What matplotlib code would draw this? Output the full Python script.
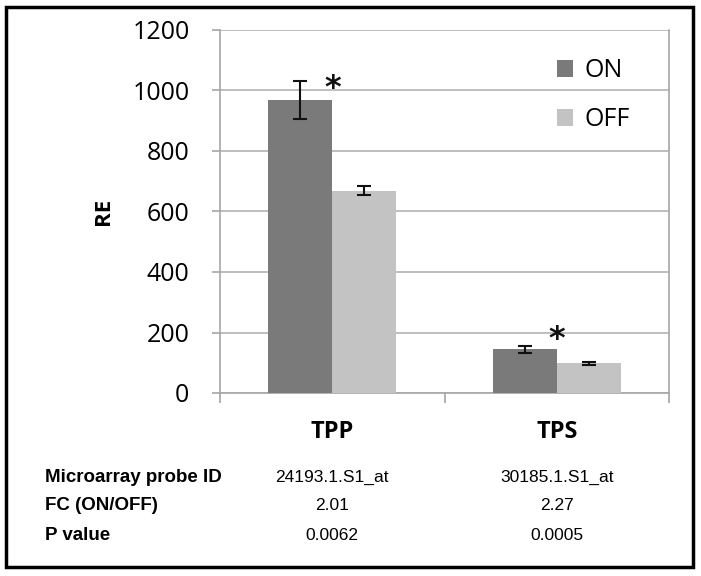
import matplotlib
matplotlib.use("Agg")
import matplotlib.pyplot as plt
from matplotlib import font_manager
import numpy as np

# data
genes = ["TPP", "TPS"]
on_vals = [969, 145]
on_err = [62, 12]
off_vals = [669, 98]
off_err = [15, 4]
star_y = [1030, 200]
probe_ids = ["24193.1.S1_at", "30185.1.S1_at"]
fold_change = ["2.01", "2.27"]
p_values = ["0.0062", "0.0005"]
row_names = ["Microarray probe ID", "FC (ON/OFF)", "P value"]
yticks = [0, 200, 400, 600, 800, 1000, 1200]

names = set(f.name for f in font_manager.fontManager.ttflist)
narrow = "Liberation Sans Narrow" if "Liberation Sans Narrow" in names else "Liberation Sans"
main = "Open Sans"

fig = plt.figure(figsize=(7.01, 5.76), dpi=100)
ax = fig.add_axes([220/701, 1-393/576, 449/701, (393-30)/576])

x = np.arange(len(genes))
w = 0.285
ax.bar(x - w/2, on_vals, w, color="#7a7a7a", label="ON", zorder=3)
ax.bar(x + w/2, off_vals, w, color="#c3c3c3", label="OFF", zorder=3)
ax.errorbar(x - w/2, on_vals, yerr=on_err, fmt="none", ecolor="#111111",
            elinewidth=1.5, capsize=5, capthick=1.5, zorder=4)
ax.errorbar(x + w/2, off_vals, yerr=off_err, fmt="none", ecolor="#111111",
            elinewidth=1.5, capsize=5, capthick=1.5, zorder=4)

# significance stars
for i in range(len(genes)):
    ax.annotate("*", (x[i], star_y[i]), xytext=(0, -5), textcoords="offset points",
                ha="center", va="center", fontsize=23, fontweight="bold",
                fontfamily="DejaVu Sans", color="#111111")

ax.set_xlim(-0.5, 1.5)
ax.set_ylim(0, 1200)
ax.set_yticks(yticks)
ax.set_yticklabels([str(v) for v in yticks], fontsize=18, fontfamily=main)
ax.set_xticks([-0.5, 0.5, 1.5])
ax.set_xticklabels([])
ax.tick_params(axis="x", length=7, width=1.2, color="#a6a6a6")
ax.tick_params(axis="y", length=6, width=1.2, color="#a6a6a6", pad=16)
ax.yaxis.grid(True, color="#b3b3b3", linewidth=1.2, zorder=0)
for s in ["left", "bottom", "right", "top"]:
    ax.spines[s].set_color("#a6a6a6")
    ax.spines[s].set_linewidth(1.2)
ax.spines["top"].set_visible(False)

ax.set_ylabel("RE", fontsize=16, fontweight="bold", fontfamily=main, labelpad=13)

leg = ax.legend(loc="upper right", bbox_to_anchor=(0.963, 0.984), frameon=False,
                prop={"family": main, "size": 18}, handlelength=0.65, handleheight=0.65,
                handletextpad=0.45, labelspacing=0.95)

# category labels below axis
for i, g in enumerate(genes):
    fig.text(ax.transData.transform((x[i], 0))[0]/701, 1-432/576, g, ha="center", va="center",
             fontsize=17, fontweight="bold", fontfamily=main)

# table beneath the chart
rows_y = [477, 506, 535]
cols = [probe_ids, fold_change, p_values]
for r, yy in enumerate(rows_y):
    fig.text(45/701, 1-yy/576, row_names[r], ha="left", va="center",
             fontsize=13.5, fontweight="bold", fontfamily=narrow)
    for i in range(len(genes)):
        xx = ax.transData.transform((x[i], 0))[0]/701
        fig.text(xx, 1-yy/576, cols[r][i], ha="center", va="center",
                 fontsize=12.5, fontfamily=narrow)

# outer frame
fig.patches.append(plt.Rectangle((6/701, 1-567/576), (693-6)/701, (567-7)/576,
                                 transform=fig.transFigure, fill=False,
                                 edgecolor="black", linewidth=2.5))

fig.savefig("out.png", dpi=100)
